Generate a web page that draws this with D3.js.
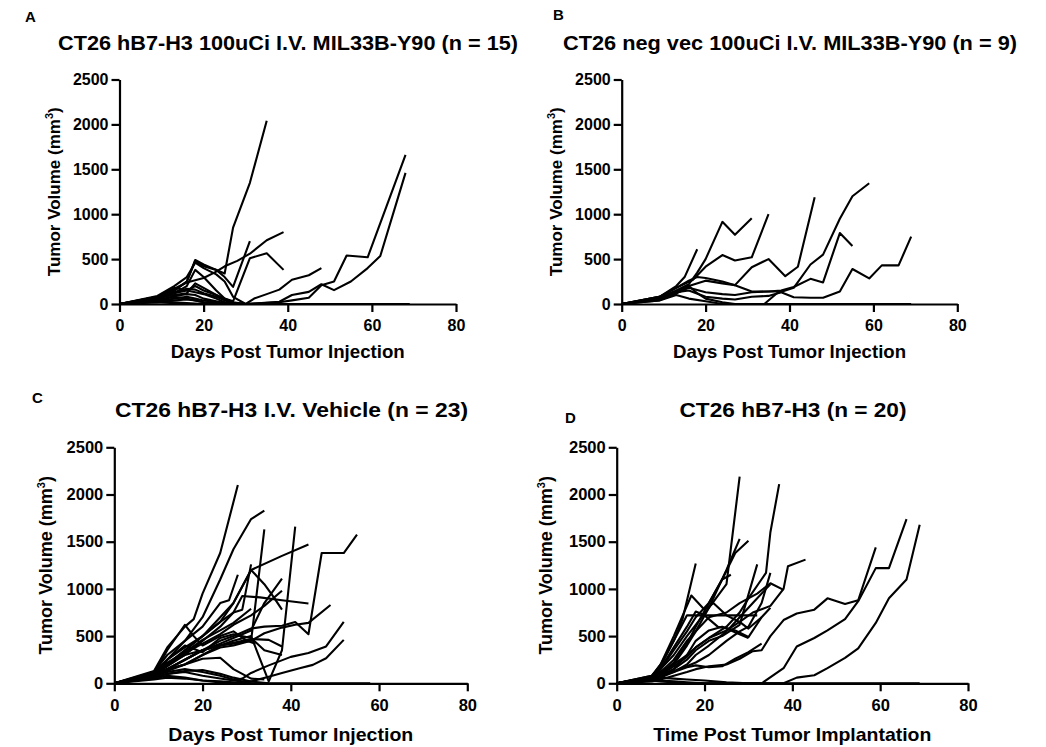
<!DOCTYPE html>
<html>
<head>
<meta charset="utf-8">
<script src="https://cdn.jsdelivr.net/npm/d3@7"></script>
<style>
  body { margin: 0; background: #fff; }
  svg { display: block; font-family: "Liberation Sans", Arial, sans-serif; font-weight: bold; }
  .domain, .tick line { stroke: #000; stroke-width: 2.2px; }
  .tick text { font-weight: bold; fill: #000; }
  .mouse { fill: none; stroke: #000; stroke-width: 2.1px; stroke-linejoin: round; }
</style>
</head>
<body>
<svg id="chart" width="1046" height="747"></svg>
<script>
// one array of [day, volume] pairs per mouse
const panelA = [
  [[0,0],[9,60],[13,150],[16,250],[18,480],[20,420],[23,380],[25,340],[27,850],[31,1350],[35,2040]],
  [[0,0],[9,80],[13,170],[16,240],[20,290],[23,360],[25,420],[28,480],[31,560],[35,710],[39,800]],
  [[0,0],[9,70],[13,150],[16,250],[18,490],[20,440],[23,380],[25,300],[27,190],[31,700]],
  [[0,0],[9,50],[13,120],[16,150],[18,200],[20,150],[23,100],[25,60],[27,30],[31,510],[35,565],[39,380]],
  [[0,0],[9,40],[13,80],[16,60],[18,40],[20,20],[23,10],[27,0],[30,0],[32,60],[35,110],[38,160],[41,270],[45,320],[48,400]],
  [[0,0],[9,30],[13,20],[16,10],[20,0],[30,0],[38,20],[41,40],[45,70],[48,210],[51,250],[54,540],[59,520],[68,1660]],
  [[0,0],[9,20],[13,10],[16,0],[30,0],[38,25],[41,100],[45,135],[48,220],[51,155],[55,250],[59,400],[62,535],[68,1460]],
  [[0,0],[9,90],[13,200],[16,300],[18,460],[20,400],[23,330],[25,250],[27,80],[30,0]],
  [[0,0],[9,60],[13,120],[16,200],[18,380],[20,300],[23,150],[25,60],[27,20],[30,0]],
  [[0,0],[9,80],[13,180],[16,150],[18,130],[20,110],[23,60],[25,20],[27,0]],
  [[0,0],[9,50],[13,130],[16,170],[18,160],[20,120],[23,80],[25,40],[27,10],[30,0]],
  [[0,0],[9,40],[13,90],[16,110],[18,100],[20,60],[23,30],[25,10],[27,0],[69,0]],
  [[0,0],[9,30],[13,60],[16,80],[18,60],[20,40],[23,20],[25,0]],
  [[0,0],[9,20],[13,40],[16,50],[18,40],[20,20],[23,0]],
  [[0,0],[9,70],[13,100],[16,120],[18,230],[20,180],[23,100],[25,50],[27,10],[30,0]]
];

const panelB = [
  [[0,0],[9,80],[13,200],[15,300],[18,610]],
  [[0,0],[9,70],[13,150],[16,220],[18,350],[20,500],[24,915],[27,770],[31,955]],
  [[0,0],[9,80],[13,180],[17,270],[20,415],[24,545],[27,485],[31,520],[35,1000]],
  [[0,0],[9,60],[13,130],[16,200],[20,260],[24,230],[27,210],[31,410],[35,500],[39,310],[42,415],[46,1190]],
  [[0,0],[9,50],[13,120],[16,180],[20,130],[24,110],[27,100],[31,130],[35,140],[38,150],[41,190],[45,280],[48,240],[52,790],[55,645]],
  [[0,0],[9,40],[13,100],[16,60],[20,30],[24,0],[31,0],[34,0],[37,120],[41,180],[45,440],[48,550],[52,950],[55,1200],[59,1345]],
  [[0,0],[9,60],[13,130],[16,150],[20,80],[24,60],[27,50],[31,80],[35,90],[38,130],[41,75],[45,70],[48,70],[52,140],[55,390],[59,285],[62,430],[66,430],[69,750]],
  [[0,0],[9,40],[13,120],[16,200],[18,120],[20,60],[24,20],[27,0],[69,0]],
  [[0,0],[9,80],[13,180],[16,260],[18,300],[20,290],[24,250],[27,210],[31,140],[35,140],[38,140]]
];

const panelC = [
  [[0,0],[9,130],[12,380],[16,600],[18,680],[20,950],[24,1380],[28,2100]],
  [[0,0],[9,100],[12,250],[16,450],[20,700],[24,1100],[27,1420],[31,1740],[34,1830]],
  [[0,0],[9,90],[12,200],[16,300],[20,350],[24,400],[27,420],[31,450],[34,1630]],
  [[0,0],[9,80],[12,150],[16,200],[20,300],[24,400],[27,450],[31,500],[35,20],[38,350],[41,1660]],
  [[0,0],[9,100],[12,200],[16,350],[20,500],[24,650],[27,850],[31,1200],[38,1350],[44,1470]],
  [[0,0],[9,80],[12,180],[16,300],[20,450],[24,600],[27,750],[29,925],[33,910],[38,880],[44,845]],
  [[0,0],[9,60],[12,150],[16,250],[20,350],[24,450],[27,500],[31,580],[34,600],[38,610],[41,650],[44,520],[47,1380],[52,1380],[55,1575]],
  [[0,0],[9,90],[12,150],[16,200],[20,300],[24,380],[27,400],[31,450],[34,530],[38,590],[41,620],[44,640],[49,830]],
  [[0,0],[9,60],[12,100],[16,120],[20,80],[24,50],[27,30],[29,50],[31,110],[35,190],[40,280],[44,320],[48,390],[52,650]],
  [[0,0],[9,40],[12,60],[16,50],[20,30],[24,20],[27,10],[31,20],[35,70],[38,110],[42,160],[45,195],[48,265],[52,460]],
  [[0,0],[9,80],[12,200],[16,350],[20,500],[24,700],[27,850],[31,1200],[34,1050],[36,920],[38,780]],
  [[0,0],[9,70],[12,150],[16,250],[20,350],[24,420],[27,480],[31,560],[34,850],[38,1110]],
  [[0,0],[9,100],[12,250],[16,380],[20,500],[24,650],[27,750],[29,780],[31,1260]],
  [[0,0],[9,90],[12,200],[16,320],[20,420],[24,520],[27,620],[31,720],[34,820],[38,980]],
  [[0,0],[9,120],[12,300],[16,450],[20,600],[24,850],[26,880],[28,1150]],
  [[0,0],[9,100],[12,220],[16,330],[20,460],[24,560],[27,640],[31,790]],
  [[0,0],[9,70],[12,150],[16,250],[20,350],[24,400],[27,430],[31,470],[35,460],[38,390]],
  [[0,0],[9,100],[12,350],[16,620],[18,500],[20,400],[24,500],[27,550],[30,450],[32,420]],
  [[0,0],[9,80],[12,120],[16,150],[20,120],[24,80],[27,40],[31,0],[35,0],[58,0]],
  [[0,0],[9,60],[12,100],[16,130],[20,140],[24,100],[27,60],[31,20],[35,0]],
  [[0,0],[9,50],[12,80],[16,60],[20,30],[24,10],[27,0]],
  [[0,0],[9,110],[12,250],[16,400],[20,330],[24,480],[27,520],[31,480],[34,350],[38,300]],
  [[0,0],[9,70],[12,130],[16,200],[20,260],[24,270],[27,150],[31,50],[34,40]]
];

const panelD = [
  [[0,0],[8,70],[10,150],[13,300],[16,500],[18,620],[21,800],[25,1050],[28,2190]],
  [[0,0],[8,60],[10,120],[13,200],[16,300],[18,380],[21,480],[25,600],[28,750],[30,900],[34,1170],[35,1600],[37,2110]],
  [[0,0],[8,50],[10,100],[13,200],[16,400],[18,550],[21,800],[23,1000],[25,1200],[28,1530]],
  [[0,0],[8,50],[10,100],[13,220],[16,420],[18,600],[21,850],[24,1100],[27,1380],[30,1510]],
  [[0,0],[8,40],[10,80],[13,150],[16,250],[18,350],[21,450],[24,500],[28,620],[32,1260]],
  [[0,0],[8,80],[10,180],[13,450],[15,680],[18,1270]],
  [[0,0],[8,40],[10,90],[13,180],[16,280],[18,380],[21,480],[25,560],[28,650],[31,750],[35,820],[38,1000],[39,1240],[43,1310]],
  [[0,0],[8,60],[10,120],[13,250],[16,450],[18,550],[21,700],[25,750],[28,850],[32,950],[35,1060],[38,990]],
  [[0,0],[8,40],[10,80],[13,130],[16,180],[18,220],[21,300],[25,450],[28,550],[30,600],[33,850],[35,1170]],
  [[0,0],[8,70],[10,200],[13,450],[16,720],[18,720],[21,720],[25,720],[28,720],[32,720]],
  [[0,0],[8,80],[10,200],[13,500],[17,930],[20,780],[22,850],[25,720],[28,650],[30,580],[33,700]],
  [[0,0],[8,40],[10,80],[13,150],[16,300],[18,450],[21,560],[24,600],[27,560],[30,490],[33,700],[35,800]],
  [[0,0],[8,30],[10,60],[13,120],[16,200],[18,300],[21,400],[25,550],[28,700],[31,850],[34,1000],[35,1050]],
  [[0,0],[8,60],[10,150],[13,350],[16,550],[18,700],[21,850],[24,1100],[26,1150]],
  [[0,0],[8,20],[10,40],[13,80],[16,120],[18,150],[21,180],[25,200],[28,260],[31,340],[33,350],[35,500],[38,670],[41,740],[45,780],[48,900],[52,840],[55,880],[59,1440]],
  [[0,0],[8,40],[10,30],[13,20],[16,10],[20,0],[33,0],[38,160],[41,390],[45,480],[48,560],[52,680],[55,870],[59,1220],[62,1220],[66,1740]],
  [[0,0],[8,30],[10,20],[13,10],[16,0],[38,0],[41,60],[45,85],[48,160],[52,270],[55,370],[59,640],[62,900],[66,1100],[69,1680]],
  [[0,0],[8,40],[10,60],[13,50],[16,40],[20,30],[25,10],[30,0],[69,0]],
  [[0,0],[8,70],[10,160],[13,380],[16,600],[18,760],[20,720],[23,600],[25,580],[28,520],[30,480]],
  [[0,0],[8,40],[10,80],[13,120],[16,170],[18,190],[21,170],[24,180],[27,260],[30,330],[33,420]]
];

const titles = [
  "CT26 hB7-H3 100uCi I.V. MIL33B-Y90 (n = 15)",
  "CT26 neg vec 100uCi I.V. MIL33B-Y90 (n = 9)",
  "CT26 hB7-H3 I.V. Vehicle (n = 23)",
  "CT26 hB7-H3 (n = 20)"
];
const letters = ["A", "B", "C", "D"];
const xLabels = [
  "Days Post Tumor Injection",
  "Days Post Tumor Injection",
  "Days Post Tumor Injection",
  "Time Post Tumor Implantation"
];
const xTicks = [0, 20, 40, 60, 80];
const yTicks = [0, 500, 1000, 1500, 2000, 2500];

// pixel boxes of each plot area, plus where its labels sit (the four panels are scaled a bit differently)
const layouts = [
  { x0: 119.5, x1: 456, y0: 304, y1: 79.5, tick: 16, titleX: 288, titleY: 49.5, titleW: 460, letterX: 25, letterY: 22,
    xLabY: 358, xLabW: 234, yLabX: 60, yLabF: 17 },
  { x0: 621.7, x1: 957.3, y0: 304, y1: 79.5, tick: 16, titleX: 790, titleY: 49.5, titleW: 454, letterX: 553, letterY: 20,
    xLabY: 358, xLabW: 233, yLabX: 562, yLabF: 17 },
  { x0: 114.3, x1: 467.3, y0: 683.3, y1: 447.3, tick: 16.5, titleX: 291.5, titleY: 417, titleW: 353, letterX: 32, letterY: 403,
    xLabY: 741, xLabW: 245, yLabX: 52, yLabF: 18 },
  { x0: 616.7, x1: 968, y0: 683.3, y1: 447.3, tick: 16.5, titleX: 793, titleY: 417, titleW: 227, letterX: 565, letterY: 423,
    xLabY: 741, xLabW: 278, yLabX: 552, yLabF: 18 }
];

const svg = d3.select("#chart");
const panels = [panelA, panelB, panelC, panelD];

panels.forEach((mice, i) => drawPanel(mice, layouts[i], i));

function drawPanel(mice, lay, i) {
  const x = d3.scaleLinear().domain([0, 80]).range([lay.x0, lay.x1]);
  const y = d3.scaleLinear().domain([0, 2500]).range([lay.y0, lay.y1]);
  const g = svg.append("g");

  const line = d3.line().x(d => x(d[0])).y(d => y(d[1]));
  g.append("g").selectAll("path")
    .data(mice)
    .join("path")
    .attr("class", "mouse")
    .attr("d", line);

  g.append("g")
    .attr("transform", `translate(0,${lay.y0})`)
    .style("font-size", lay.tick + "px")
    .call(d3.axisBottom(x).tickValues(xTicks).tickSize(8).tickSizeOuter(0).tickPadding(8));

  g.append("g")
    .attr("transform", `translate(${lay.x0},0)`)
    .style("font-size", lay.tick + "px")
    .call(d3.axisLeft(y).tickValues(yTicks).tickSize(8).tickSizeOuter(0).tickPadding(3).tickFormat(d3.format("d")));
  g.selectAll(".tick text").style("font-size", lay.tick + "px");

  g.append("text")
    .attr("x", lay.titleX).attr("y", lay.titleY)
    .attr("text-anchor", "middle")
    .attr("textLength", lay.titleW)
    .attr("lengthAdjust", "spacingAndGlyphs")
    .style("font-size", "20px")
    .text(titles[i]);

  g.append("text")
    .attr("x", lay.letterX).attr("y", lay.letterY)
    .style("font-size", "15px")
    .text(letters[i]);

  g.append("text")
    .attr("x", (lay.x0 + lay.x1) / 2).attr("y", lay.xLabY)
    .attr("text-anchor", "middle")
    .attr("textLength", lay.xLabW)
    .attr("lengthAdjust", "spacingAndGlyphs")
    .style("font-size", "18.5px")
    .text(xLabels[i]);

  const yl = g.append("text")
    .attr("transform", `translate(${lay.yLabX},${(lay.y0 + lay.y1) / 2}) rotate(-90)`)
    .attr("text-anchor", "middle")
    .style("font-size", lay.yLabF + "px");
  yl.append("tspan").text("Tumor Volume (mm");
  yl.append("tspan").attr("dy", -7).style("font-size", "11px").text("3");
  yl.append("tspan").attr("dy", 7).text(")");
}
</script>
</body>
</html>
